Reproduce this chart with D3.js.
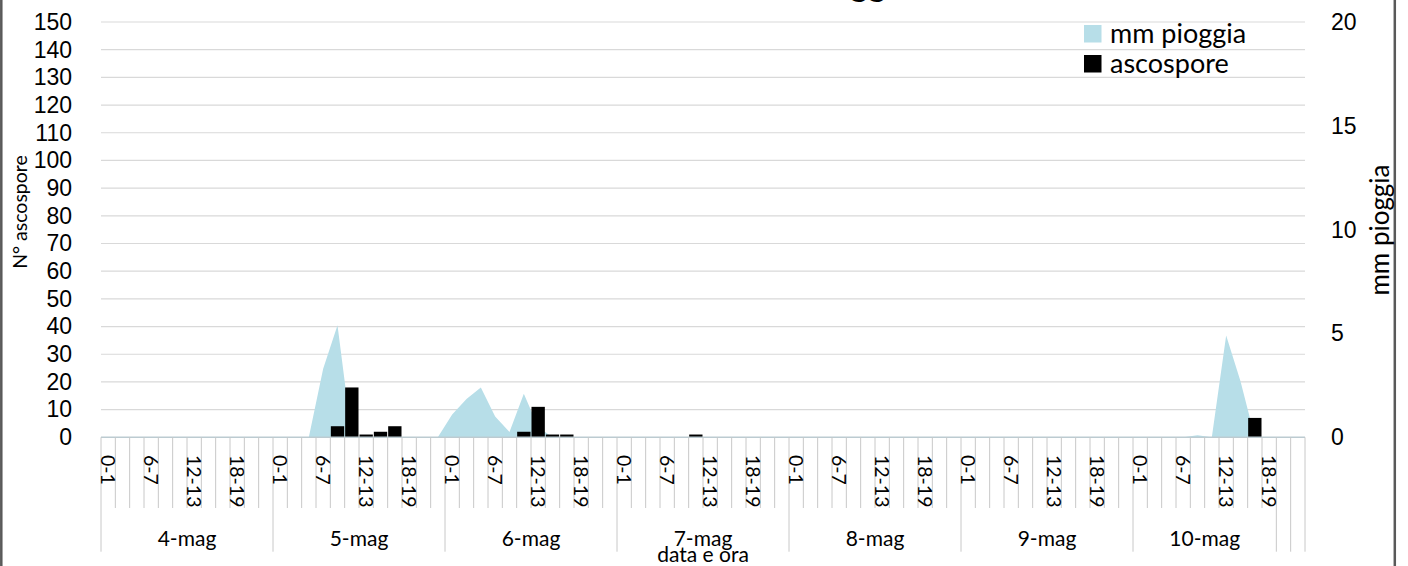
<!DOCTYPE html>
<html>
<head>
<meta charset="utf-8">
<script src="https://cdn.jsdelivr.net/npm/d3@7"></script>
<style>
  body { margin: 0; background: #fff; }
  svg { display: block; font-family: Lato, "Open Sans", sans-serif; }
</style>
</head>
<body>
<svg id="chart"></svg>
<script>
// categories: days, each split into 2-hour slots
var dayLabels = ["4-mag", "5-mag", "6-mag", "7-mag", "8-mag", "9-mag", "10-mag", "", ""]
var dayCategoryCounts = [12, 12, 12, 12, 12, 12, 10, 1, 1]
var hourLabels = ["0-1", "2-3", "4-5", "6-7", "8-9", "10-11", "12-13", "14-15", "16-17", "18-19", "20-21", "22-23"]

// N° ascospore (left axis)
var ascospore = [
  0, 0, 0, 0, 0, 0, 0, 0, 0, 0, 0, 0,      // 4-mag
  0, 0, 0, 0, 4, 18, 1, 2, 4, 0, 0, 0,     // 5-mag
  0, 0, 0, 0, 0, 2, 11, 1, 1, 0, 0, 0,     // 6-mag
  0, 0, 0, 0, 0, 1, 0, 0, 0, 0, 0, 0,      // 7-mag
  0, 0, 0, 0, 0, 0, 0, 0, 0, 0, 0, 0,      // 8-mag
  0, 0, 0, 0, 0, 0, 0, 0, 0, 0, 0, 0,      // 9-mag
  0, 0, 0, 0, 0, 0, 0, 0, 7, 0,            // 10-mag
  0, 0
]

// mm pioggia (right axis)
var pioggia = [
  0, 0, 0, 0, 0, 0, 0, 0, 0, 0, 0, 0,
  0, 0, 0, 3.3, 5.4, 0, 0, 0, 0, 0, 0, 0,
  1.1, 1.85, 2.4, 1.0, 0.25, 2.1, 0.5, 0, 0, 0, 0, 0,
  0, 0, 0, 0, 0, 0, 0, 0, 0, 0, 0, 0,
  0, 0, 0, 0, 0, 0, 0, 0, 0, 0, 0, 0,
  0, 0, 0, 0, 0, 0, 0, 0, 0, 0, 0, 0,
  0, 0, 0, 0, 0.1, 0, 4.9, 2.7, 0, 0,
  0, 0
]

var leftTicks = d3.range(0, 151, 10)
var rightTicks = [0, 5, 10, 15, 20]

var width = 1408, height = 566
var plot = { left: 101, right: 1305, top: 22, bottom: 437.3 }

// flatten categories
var categories = []
var groups = []
dayLabels.forEach(function(day, d) {
    var start = categories.length
    for (var h = 0; h < dayCategoryCounts[d]; h++) {
        categories.push({ day: day, hour: day === "" ? "" : hourLabels[h] })
    }
    groups.push({ label: day, start: start, end: categories.length })
})

var svg = d3.select("#chart").attr("width", width).attr("height", height)

var x = d3.scaleBand()
    .domain(d3.range(categories.length))
    .range([plot.left, plot.right])
    .padding(0)
var bw = x.bandwidth()
function xEdge(i) { return i >= categories.length ? plot.right : x(i) }

var yLeft = d3.scaleLinear().domain([0, 150]).range([plot.bottom, plot.top])
var yRight = d3.scaleLinear().domain([0, 20]).range([plot.bottom, plot.top])

// chart frame (extends beyond the visible window)
svg.append("rect")
    .attr("x", 1.3).attr("y", -30)
    .attr("width", 1393.5).attr("height", height + 60)
    .attr("fill", "none").attr("stroke", "#595959").attr("stroke-width", 2.5)

// title, cropped off at the top
svg.append("text")
    .attr("x", 912).attr("y", -4)
    .attr("text-anchor", "end")
    .style("font-size", "34px").style("font-weight", "bold")
    .text("Catture e Pioggia")

// gridlines
svg.append("g")
    .selectAll("line")
    .data(leftTicks.filter(function(t) { return t > 0 }))
    .enter().append("line")
    .attr("x1", plot.left).attr("x2", plot.right)
    .attr("y1", function(d) { return yLeft(d) })
    .attr("y2", function(d) { return yLeft(d) })
    .attr("stroke", "#d9d9d9").attr("stroke-width", 1.2)

// rain area
var area = d3.area()
    .x(function(d, i) { return x(i) + bw / 2 })
    .y0(yRight(0))
    .y1(function(d) { return yRight(d) })

svg.append("path")
    .datum(pioggia)
    .attr("d", area)
    .attr("fill", "#b7dee8")

// ascospore bars
var barW = bw * 0.93
svg.append("g")
    .selectAll("rect")
    .data(ascospore)
    .enter().append("rect")
    .attr("x", function(d, i) { return x(i) + (bw - barW) / 2 })
    .attr("width", barW)
    .attr("y", function(d) { return yLeft(d) })
    .attr("height", function(d) { return yLeft(0) - yLeft(d) })
    .attr("fill", "#000")

// x axis line
svg.append("line")
    .attr("x1", plot.left).attr("x2", plot.right)
    .attr("y1", plot.bottom).attr("y2", plot.bottom)
    .attr("stroke", "#bccbd1").attr("stroke-width", 1.5)

// category ticks
var groupEdges = {}
groups.forEach(function(g) { groupEdges[g.start] = true; groupEdges[g.end] = true })
svg.append("g")
    .selectAll("line")
    .data(d3.range(categories.length + 1))
    .enter().append("line")
    .attr("x1", xEdge).attr("x2", xEdge)
    .attr("y1", plot.bottom)
    .attr("y2", function(i) { return groupEdges[i] ? 551.7 : 508 })
    .attr("stroke", "#c8c8c8").attr("stroke-width", 1)

// hour labels (every 3rd category)
svg.append("g")
    .selectAll("text")
    .data(categories.map(function(c, i) { return { c: c, i: i } }).filter(function(d) { return d.i % 3 === 0 }))
    .enter().append("text")
    .attr("transform", function(d) { return "translate(" + (x(d.i) + bw / 2) + ",455) rotate(90)" })
    .attr("dy", "0.35em")
    .style("font-size", "19.5px")
    .text(function(d) { return d.c.hour })

// day labels
svg.append("g")
    .selectAll("text")
    .data(groups)
    .enter().append("text")
    .attr("x", function(g) { return (xEdge(g.start) + xEdge(g.end)) / 2 })
    .attr("y", 546)
    .attr("text-anchor", "middle")
    .style("font-size", "21px")
    .text(function(g) { return g.label })

svg.append("text")
    .attr("x", (plot.left + plot.right) / 2).attr("y", 562)
    .attr("text-anchor", "middle")
    .style("font-size", "21px")
    .text("data e ora")

// left axis
var leftAxis = svg.append("g")
    .attr("transform", "translate(" + plot.left + ",0)")
    .call(d3.axisLeft(yLeft).tickValues(leftTicks).tickSize(0).tickPadding(29))
leftAxis.select(".domain").remove()
leftAxis.selectAll("text").style("font-size", "23px").attr("fill", "#000").attr("font-family", null)

// right axis
var rightAxis = svg.append("g")
    .attr("transform", "translate(" + plot.right + ",0)")
    .call(d3.axisRight(yRight).tickValues(rightTicks).tickSize(0).tickPadding(26))
rightAxis.select(".domain").remove()
rightAxis.selectAll("text").style("font-size", "23px").attr("fill", "#000").attr("font-family", null)

// axis titles
svg.append("text")
    .attr("transform", "translate(27,212) rotate(-90)")
    .attr("text-anchor", "middle")
    .style("font-size", "19.5px")
    .text("N° ascospore")

svg.append("text")
    .attr("transform", "translate(1389,230) rotate(-90)")
    .attr("text-anchor", "middle")
    .style("font-size", "26px")
    .text("mm pioggia")

// legend
var legendItems = [
    { label: "mm pioggia", color: "#b7dee8" },
    { label: "ascospore", color: "#000" }
]
var legend = svg.append("g")
    .selectAll("g")
    .data(legendItems)
    .enter().append("g")
    .attr("transform", function(d, i) { return "translate(1084," + (25 + i * 30) + ")" })
legend.append("rect")
    .attr("width", 17.5).attr("height", 17.5)
    .attr("fill", function(d) { return d.color })
legend.append("text")
    .attr("x", 26).attr("y", 9)
    .attr("dy", "0.35em")
    .style("font-size", "27px")
    .text(function(d) { return d.label })
</script>
</body>
</html>
